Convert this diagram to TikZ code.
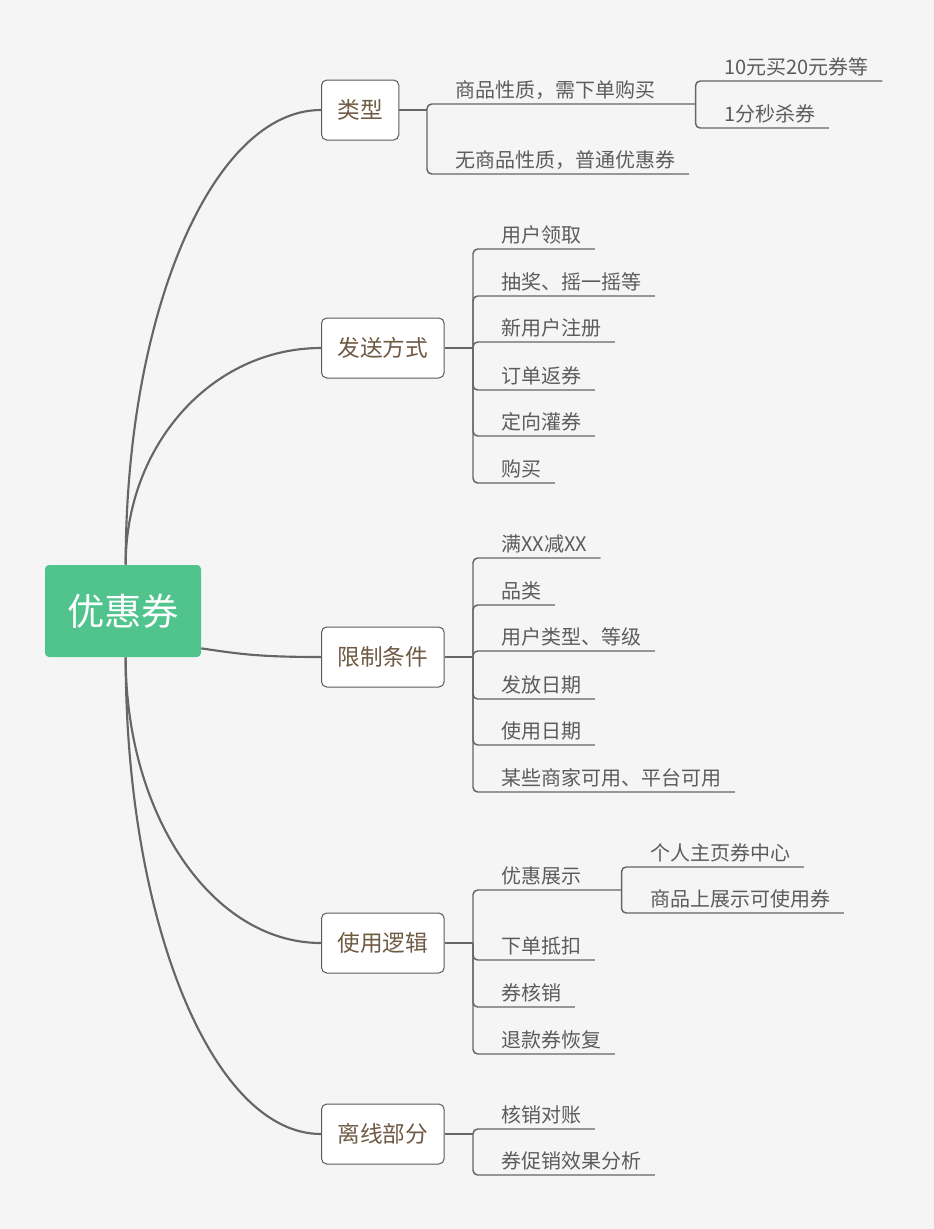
\documentclass[tikz,border=0pt]{standalone}
\usepackage{fontspec}
\setmainfont{Noto Sans CJK SC}
\usepackage{xcolor}
\usepackage{tikz}
\usetikzlibrary{positioning}

\definecolor{bggray}{HTML}{F5F5F5}
\definecolor{rootgreen}{HTML}{50C48C}
\definecolor{linegray}{HTML}{666666}
\definecolor{boxgray}{HTML}{5A5A5A}
\definecolor{topicbrown}{HTML}{6F5A44}
\definecolor{leafgray}{HTML}{5C5C5C}

\begin{document}
\begin{tikzpicture}[
  x=0.75pt, y=-0.75pt,
  root/.style={rectangle, fill=rootgreen, rounded corners=3pt, text=white,
              minimum width=117pt, minimum height=69pt, inner sep=0pt,
              font=\fontsize{28}{32}\selectfont},
  topic/.style={rectangle, draw=boxgray, fill=white, rounded corners=4pt,
               line width=0.75pt, minimum height=45pt, inner xsep=12pt,
               anchor=west, text=topicbrown, font=\fontsize{17}{20}\selectfont},
  leaf/.style={anchor=south west, inner sep=0pt, text depth=0.46em,
              text=leafgray, font=\fontsize{15}{18}\selectfont},
  bough/.style={draw=linegray, line width=1.6pt},
  twig/.style={draw=linegray, line width=1.5pt},
  leafline/.style={draw=linegray, line width=1.1pt, rounded corners=3.5pt}
]

\fill[bggray] (0,0) rectangle (934,1229);

\node[root] (coupon) at (123,611) {优惠券};
\node[topic] (kind) at (321,110) {类型};
\node[topic] (send) at (321,348) {发送方式};
\node[topic] (limit) at (321,657) {限制条件};
\node[topic] (use) at (321,943) {使用逻辑};
\node[topic] (offline) at (321,1134) {离线部分};

\draw[bough] ([xshift=2pt]coupon.north) .. controls +(0,-251) and +(-109,0) .. (kind.west);
\draw[bough] ([xshift=2pt]coupon.north) .. controls +(0,-120) and +(-109,0) .. (send.west);
\draw[bough] ([yshift=-28pt]coupon.east) .. controls +(40,6) and +(-60,0) .. (limit.west);
\draw[bough] ([xshift=2pt]coupon.south) .. controls +(0,158) and +(-109,0) .. (use.west);
\draw[bough] ([xshift=2pt]coupon.south) .. controls +(0,263) and +(-109,0) .. (offline.west);

\coordinate (jkind) at (427,110);
\coordinate (jsend) at (473,348);
\coordinate (jlimit) at (473,657);
\coordinate (juse) at (473,943);
\coordinate (joff) at (473,1134);

\node[leaf] (goods) at (455,104) {商品性质，需下单购买};
\node[leaf] (nogoods) at (455,174) {无商品性质，普通优惠券};
\coordinate (jgoods) at ([xshift=30pt]goods.south east);
\node[leaf] (buy10) at (724,81) {10元买20元券等};
\node[leaf] (sec1) at (724,128) {1分秒杀券};

\node[leaf] (claim) at (501,249) {用户领取};
\node[leaf] (lottery) at (501,296) {抽奖、摇一摇等};
\node[leaf] (signup) at (501,342) {新用户注册};
\node[leaf] (rebate) at (501,390) {订单返券};
\node[leaf] (push) at (501,436) {定向灌券};
\node[leaf] (purchase) at (501,483) {购买};

\node[leaf] (amount) at (501,558) {满XX减XX};
\node[leaf] (category) at (501,605) {品类};
\node[leaf] (level) at (501,651) {用户类型、等级};
\node[leaf] (issuedate) at (501,699) {发放日期};
\node[leaf] (usedate) at (501,745) {使用日期};
\node[leaf] (shops) at (501,792) {某些商家可用、平台可用};

\node[leaf] (show) at (501,890) {优惠展示};
\coordinate (jshow) at ([xshift=30pt]show.south east);
\node[leaf] (center) at (650,867) {个人主页券中心};
\node[leaf] (onitem) at (650,913) {商品上展示可使用券};
\node[leaf] (deduct) at (501,960) {下单抵扣};
\node[leaf] (verify) at (501,1007) {券核销};
\node[leaf] (restore) at (501,1054) {退款券恢复};

\node[leaf] (reconcile) at (501,1129) {核销对账};
\node[leaf] (analysis) at (501,1175) {券促销效果分析};

\draw[twig] (kind.east) -- (jkind);
\draw[twig] (send.east) -- (jsend);
\draw[twig] (limit.east) -- (jlimit);
\draw[twig] (use.east) -- (juse);
\draw[twig] (offline.east) -- (joff);

\draw[leafline] (jkind) |- (jgoods);
\draw[leafline] (jkind) |- ([xshift=10pt]nogoods.south east);
\draw[leafline] (jgoods) |- ([xshift=10pt]buy10.south east);
\draw[leafline] (jgoods) |- ([xshift=10pt]sec1.south east);

\draw[leafline] (jsend) |- ([xshift=10pt]claim.south east);
\draw[leafline] (jsend) |- ([xshift=10pt]lottery.south east);
\draw[leafline] (jsend) |- ([xshift=10pt]signup.south east);
\draw[leafline] (jsend) |- ([xshift=10pt]rebate.south east);
\draw[leafline] (jsend) |- ([xshift=10pt]push.south east);
\draw[leafline] (jsend) |- ([xshift=10pt]purchase.south east);

\draw[leafline] (jlimit) |- ([xshift=10pt]amount.south east);
\draw[leafline] (jlimit) |- ([xshift=10pt]category.south east);
\draw[leafline] (jlimit) |- ([xshift=10pt]level.south east);
\draw[leafline] (jlimit) |- ([xshift=10pt]issuedate.south east);
\draw[leafline] (jlimit) |- ([xshift=10pt]usedate.south east);
\draw[leafline] (jlimit) |- ([xshift=10pt]shops.south east);

\draw[leafline] (juse) |- (jshow);
\draw[leafline] (jshow) |- ([xshift=10pt]center.south east);
\draw[leafline] (jshow) |- ([xshift=10pt]onitem.south east);
\draw[leafline] (juse) |- ([xshift=10pt]deduct.south east);
\draw[leafline] (juse) |- ([xshift=10pt]verify.south east);
\draw[leafline] (juse) |- ([xshift=10pt]restore.south east);

\draw[leafline] (joff) |- ([xshift=10pt]reconcile.south east);
\draw[leafline] (joff) |- ([xshift=10pt]analysis.south east);

\end{tikzpicture}
\end{document}
